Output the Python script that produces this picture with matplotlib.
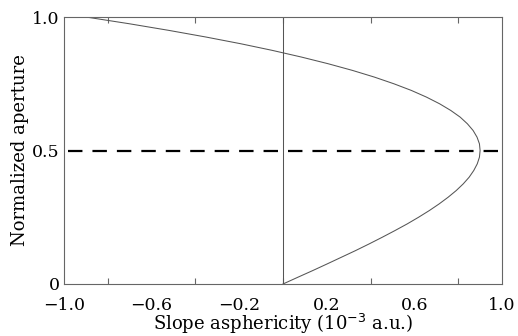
import matplotlib
matplotlib.use("Agg")
import matplotlib.pyplot as plt

# Normalized aperture (y) and slope asphericity (x, 1e-3 a.u.)
aperture = [0.000, 0.025, 0.050, 0.075, 0.100, 0.125, 0.150, 0.175, 0.200, 0.225,
            0.250, 0.275, 0.300, 0.325, 0.350, 0.375, 0.400, 0.425, 0.450, 0.475,
            0.500, 0.525, 0.550, 0.575, 0.600, 0.625, 0.650, 0.675, 0.700, 0.725,
            0.750, 0.775, 0.800, 0.825, 0.850, 0.875, 0.900, 0.925, 0.950, 0.975, 1.000]
asphericity = [0.000, 0.067, 0.135, 0.201, 0.266, 0.331, 0.393, 0.453, 0.511, 0.567,
               0.619, 0.668, 0.713, 0.754, 0.791, 0.823, 0.850, 0.871, 0.887, 0.897,
               0.900, 0.897, 0.886, 0.868, 0.842, 0.809, 0.766, 0.715, 0.655, 0.586,
               0.506, 0.417, 0.317, 0.206, 0.084, -0.049, -0.194, -0.352, -0.522, -0.704, -0.900]
half_aperture = 0.5
zero_line = 0.0

xticks_major = [-1.0, -0.6, -0.2, 0.2, 0.6, 1.0]
xtick_labels = ["\u22121.0", "\u22120.6", "\u22120.2", "0.2", "0.6", "1.0"]
xticks_minor = [-0.8, -0.4, 0.0, 0.4, 0.8]
yticks = [0, 0.5, 1.0]
ytick_labels = ["0", "0.5", "1.0"]

plt.rcParams['font.family'] = ['DejaVu Serif']
fig = plt.figure(figsize=(5.18, 3.36), dpi=100)
ax = fig.add_axes([64/518, 1-284/336, 438/518, 267/336])

frame = "#666666"
ax.plot(asphericity, aperture, color="#555555", lw=0.75)
ax.plot([zero_line, zero_line], [0, 1], color="#555555", lw=0.75)
ax.axhline(half_aperture, color="black", lw=1.6, dashes=(6.5, 4.5), xmin=0.01)

ax.set_xlim(-1.0, 1.0)
ax.set_ylim(0, 1.0)
ax.set_xticks(xticks_major)
ax.set_xticklabels(xtick_labels)
ax.set_xticks(xticks_minor, minor=True)
ax.set_yticks(yticks)
ax.set_yticklabels(ytick_labels)
ax.tick_params(axis='x', which='major', length=0, labelsize=12.5, pad=9)
ax.tick_params(axis='x', which='minor', direction='in', length=4, top=True, bottom=True, color=frame, width=0.8)
ax.tick_params(axis='y', length=0, labelsize=12.5, pad=3)
for s in ax.spines.values():
    s.set_color(frame)
    s.set_linewidth(0.8)

ax.set_xlabel("Slope asphericity (10$^{-3}$ a.u.)", fontsize=13, labelpad=-1)
ax.set_ylabel("Normalized aperture", fontsize=13, labelpad=2)

fig.savefig("out.png", dpi=100)
